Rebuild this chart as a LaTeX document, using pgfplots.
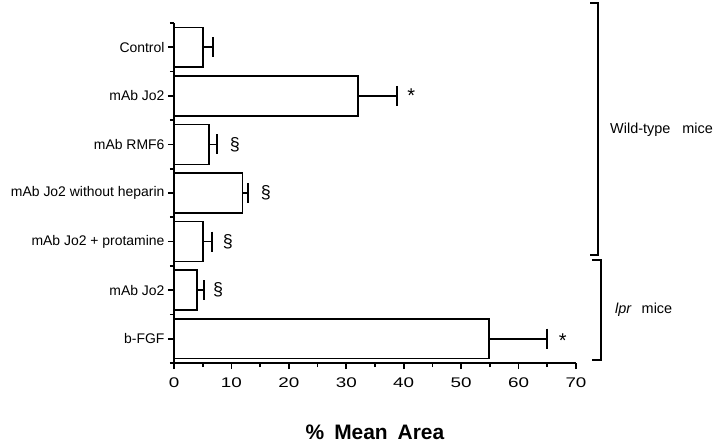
\documentclass[border=0pt]{standalone}
\usepackage{fontspec}
\setmainfont{Liberation Sans}
\usepackage{pgfplots}
\pgfplotsset{compat=1.18}

\begin{document}
\begin{tikzpicture}
\useasboundingbox (-174bp,-84bp) rectangle (546bp,363bp);
\begin{axis}[
  at={(0,0)}, anchor=south west,
  scale only axis, width=402bp, height=340bp,
  xmin=0, xmax=70, ymin=-0.5, ymax=6.5,
  axis lines*=left,
  axis line style={line width=1.6bp},
  xtick={0,10,...,70}, minor xtick={5,15,...,65},
  ytick={0,...,6}, minor ytick={-0.5,0.5,...,6.5},
  yticklabels={b-FGF, mAb Jo2, mAb Jo2 + protamine, mAb Jo2 without heparin, mAb RMF6, mAb Jo2, Control},
  tick align=outside,
  major tick length=6bp, minor tick length=4bp,
  tick style={line width=1.6bp, black},
  /pgf/number format/assume math mode=true,
  xticklabel style={font=\fontsize{14}{16}\selectfont\addfontfeatures{FakeStretch=1.35}, yshift=-5bp},
  yticklabel style={font=\fontsize{14}{16}\selectfont},
  xlabel={\%\hspace{10bp}Mean\hspace{10bp}Area},
  xlabel style={font=\fontsize{21}{23}\selectfont\bfseries, at={(axis description cs:0.5,-0.205)}, anchor=center},
  xbar, bar width=0.82,
  clip=false,
]
\addplot[draw=black, fill=white, line width=1.6bp,
  error bars/.cd, x dir=plus, x explicit,
  error mark=|,
  error bar style={line width=1.6bp},
  error mark options={mark size=10bp, line width=1.6bp}]
  coordinates {
  (54.9,0) +- (10.1,0)
  (4.0,1) +- (1.2,0)
  (5.1,2) +- (1.5,0)
  (11.9,3) +- (1.0,0)
  (6.1,4) +- (1.4,0)
  (32.0,5) +- (6.8,0)
  (5.05,6) +- (1.75,0)
  };
\node[font=\fontsize{20}{22}\selectfont] at (axis cs:41.3,5.0) {*};
\node[font=\fontsize{20}{22}\selectfont] at (axis cs:67.7,-0.05) {*};
\node[font=\fontsize{18}{20}\selectfont] at (axis cs:10.6,4) {\S};
\node[font=\fontsize{18}{20}\selectfont] at (axis cs:16.0,3) {\S};
\node[font=\fontsize{18}{20}\selectfont] at (axis cs:9.4,2) {\S};
\node[font=\fontsize{18}{20}\selectfont] at (axis cs:7.7,1) {\S};
\end{axis}
\draw[line width=1.6bp] (416bp,360bp) -- (424bp,360bp) -- (424bp,108bp) -- (416bp,108bp);
\draw[line width=1.6bp] (418bp,103bp) -- (427bp,103bp) -- (427bp,3bp) -- (418bp,3bp);
\node[anchor=west, inner sep=0pt, font=\fontsize{14.5}{16}\selectfont] at (436bp,233bp) {Wild-type\hspace{12bp}mice};
\node[anchor=west, inner sep=0pt, font=\fontsize{14.5}{16}\selectfont] at (441bp,53bp) {\textit{lpr}\hspace{10bp}mice};
\end{tikzpicture}
\end{document}
